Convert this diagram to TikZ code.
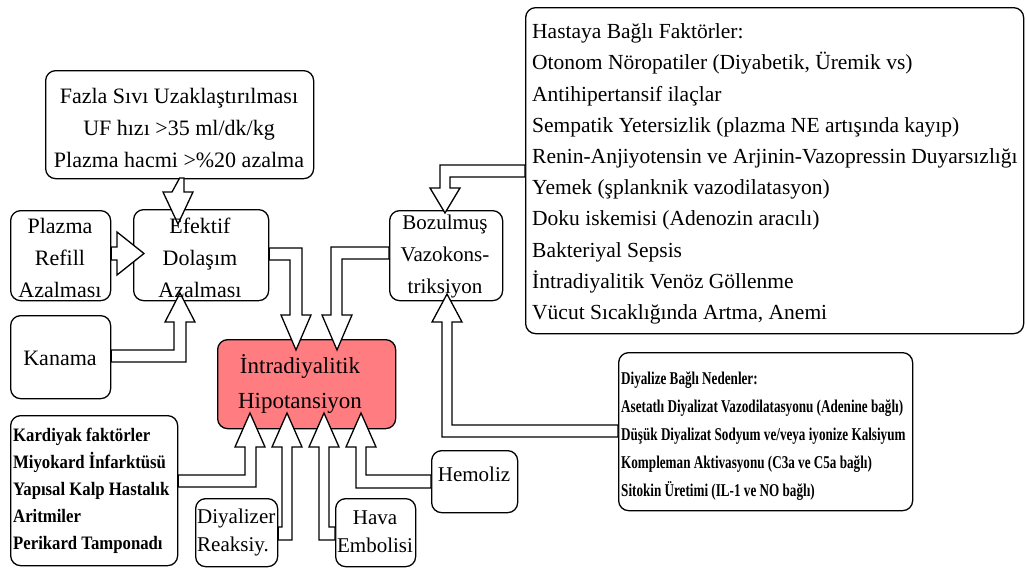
\documentclass[tikz,border=0pt]{standalone}
\usepackage{fontspec}
\setmainfont{Liberation Serif}
\newfontfamily\dfont[FakeStretch=0.73]{Liberation Serif}
\newfontfamily\kfont[FakeStretch=0.88]{Liberation Serif}
\definecolor{hipored}{HTML}{FF7C80}
\pgfdeclarelayer{bg}
\pgfdeclarelayer{mid}
\pgfsetlayers{bg,mid,main}
\begin{document}
\begin{tikzpicture}[x=1pt,y=-1pt,
  box/.style={draw=black, line width=1.3pt, rounded corners=10pt, fill=white, inner sep=0pt, anchor=north west},
  barrow/.style={draw=black, line width=1.3pt, fill=white, line join=miter},
  txt/.style={inner sep=0pt, font=\fontsize{22}{32}\selectfont, align=center},
  ltxt/.style={inner sep=0pt, anchor=west, align=left}]
\useasboundingbox (0,0) rectangle (1026,570);

\begin{pgfonlayer}{bg}
\fill[white] (0,0) rectangle (1026,570);
\node[box, minimum width=268pt, minimum height=108pt] (fazla) at (45,70) {};
\node[box, minimum width=100pt, minimum height=90pt] (plazma) at (10,210) {};
\node[box, minimum width=135pt, minimum height=91pt] (efektif) at (133,209) {};
\node[box, minimum width=100pt, minimum height=83pt] (kanama) at (10,315) {};
\node[box, minimum width=113pt, minimum height=90pt] (bozul) at (389,210) {};
\node[box, minimum width=178pt, minimum height=89pt, fill=hipored] (hipo) at (217,339) {};
\node[box, minimum width=498pt, minimum height=326pt] (hasta) at (525,7) {};
\node[box, minimum width=294pt, minimum height=158pt] (diyal) at (618,352) {};
\node[box, minimum width=167pt, minimum height=150pt] (kard) at (10,415) {};
\node[box, minimum width=82pt, minimum height=68pt] (dreak) at (195,498) {};
\node[box, minimum width=80pt, minimum height=68pt] (hava) at (335,498) {};
\node[box, minimum width=86pt, minimum height=62pt] (hemo) at (431,450) {};
\end{pgfonlayer}

\begin{pgfonlayer}{mid}
% Fazla -> Efektif
\draw[barrow] (fazla.south |- 172,178) -- (172,192) -- (163,192) -- (178,224) -- (193,192) -- (184,192) -- (184,178) -- cycle;
% Plazma -> Efektif
\draw[barrow] (plazma.east |- 0,247) -- (117,247) -- (117,232) -- (144,253.5) -- (117,275) -- (117,260) -- (plazma.east |- 0,260) -- cycle;
% Kanama -> Efektif
\draw[barrow] (kanama.east |- 0,350) -- (174,350) -- (174,322) -- (165,322) -- (180,293) -- (195,322) -- (186,322) -- (186,362) -- (kanama.east |- 0,362) -- cycle;
% Efektif -> Hipo
\draw[barrow] (efektif.east |- 0,248) -- (302,248) -- (302,315) -- (311,315) -- (296,350) -- (281,315) -- (290,315) -- (290,260) -- (efektif.east |- 0,260) -- cycle;
% Bozulmus -> Hipo
\draw[barrow] (bozul.west |- 0,247) -- (331,247) -- (331,315) -- (322,315) -- (337,350) -- (352,315) -- (342,315) -- (342,259) -- (bozul.west |- 0,259) -- cycle;
% Hastaya -> Bozulmus
\draw[barrow] (hasta.west |- 0,165) -- (440,165) -- (440,188) -- (430,188) -- (445,213) -- (460,188) -- (450,188) -- (450,177) -- (hasta.west |- 0,177) -- cycle;
% Diyalize -> Bozulmus
\draw[barrow] (diyal.west |- 0,425) -- (452,425) -- (452,322) -- (462,322) -- (447,294) -- (432,322) -- (442,322) -- (442,437) -- (diyal.west |- 0,437) -- cycle;
% Kardiyak -> Hipo
\draw[barrow] (kard.east |- 0,475) -- (245,475) -- (245,447) -- (235,447) -- (250,413) -- (265,447) -- (256,447) -- (256,487) -- (kard.east |- 0,487) -- cycle;
% Diyalizer -> Hipo
\draw[barrow] (dreak.east |- 0,527) -- (282,527) -- (282,447) -- (272,447) -- (287,413) -- (302,447) -- (292,447) -- (292,540) -- (dreak.east |- 0,540) -- cycle;
% Hava -> Hipo
\draw[barrow] (hava.west |- 0,527) -- (329,527) -- (329,447) -- (339,447) -- (324,413) -- (309,447) -- (319,447) -- (319,540) -- (hava.west |- 0,540) -- cycle;
% Hemoliz -> Hipo
\draw[barrow] (hemo.west |- 0,475) -- (366,475) -- (366,447) -- (376,447) -- (361,413) -- (346,447) -- (356,447) -- (356,488) -- (hemo.west |- 0,488) -- cycle;
\end{pgfonlayer}

\node[txt] (fazla-t) at (179,128) {Fazla Sıvı Uzaklaştırılması\\UF hızı >35 ml/dk/kg\\Plazma hacmi >\%20 azalma};
\node[txt] (plazma-t) at (60,258) {Plazma\\Refill\\Azalması};
\node[txt] (efektif-t) at (200,258) {Efektif\\Dolaşım\\Azalması};
\node[txt] (kanama-t) at (60,358) {Kanama};
\node[txt, font=\fontsize{21}{32}\selectfont] (bozul-t) at (445,256) {Bozulmuş\\Vazokons-\\triksiyon};
\node[txt, font=\fontsize{23}{35}\selectfont] (hipo-t) at (300,384) {İntradiyalitik\\Hipotansiyon};
\node[ltxt, font=\fontsize{21.5}{31.2}\selectfont] (hasta-t) at (532,174) {Hastaya Bağlı Faktörler:\\Otonom Nöropatiler (Diyabetik, Üremik vs)\\Antihipertansif ilaçlar\\Sempatik Yetersizlik (plazma NE artışında kayıp)\\Renin-Anjiyotensin ve Arjinin-Vazopressin Duyarsızlığı\\Yemek (şplanknik vazodilatasyon)\\Doku iskemisi (Adenozin aracılı)\\Bakteriyal Sepsis\\İntradiyalitik Venöz Göllenme\\Vücut Sıcaklığında Artma, Anemi};
\node[ltxt, font=\dfont\bfseries\fontsize{18}{28}\selectfont] (diyal-t) at (621,436) {Diyalize Bağlı Nedenler:\\Asetatlı Diyalizat Vazodilatasyonu (Adenine bağlı)\\Düşük Diyalizat Sodyum ve/veya iyonize Kalsiyum\\Kompleman Aktivasyonu (C3a ve C5a bağlı)\\Sitokin Üretimi (IL-1 ve NO bağlı)};
\node[ltxt, font=\kfont\bfseries\fontsize{19}{27}\selectfont] (kard-t) at (13,491) {Kardiyak faktörler\\Miyokard İnfarktüsü\\Yapısal Kalp Hastalık\\Aritmiler\\Perikard Tamponadı};
\node[ltxt, font=\fontsize{21}{28}\selectfont] (dreak-t) at (197,532) {Diyalizer\\Reaksiy.};
\node[txt, font=\fontsize{21}{28}\selectfont] (hava-t) at (375,532) {Hava\\Embolisi};
\node[txt, font=\fontsize{21}{28}\selectfont] (hemo-t) at (474,474) {Hemoliz};
\end{tikzpicture}
\end{document}
